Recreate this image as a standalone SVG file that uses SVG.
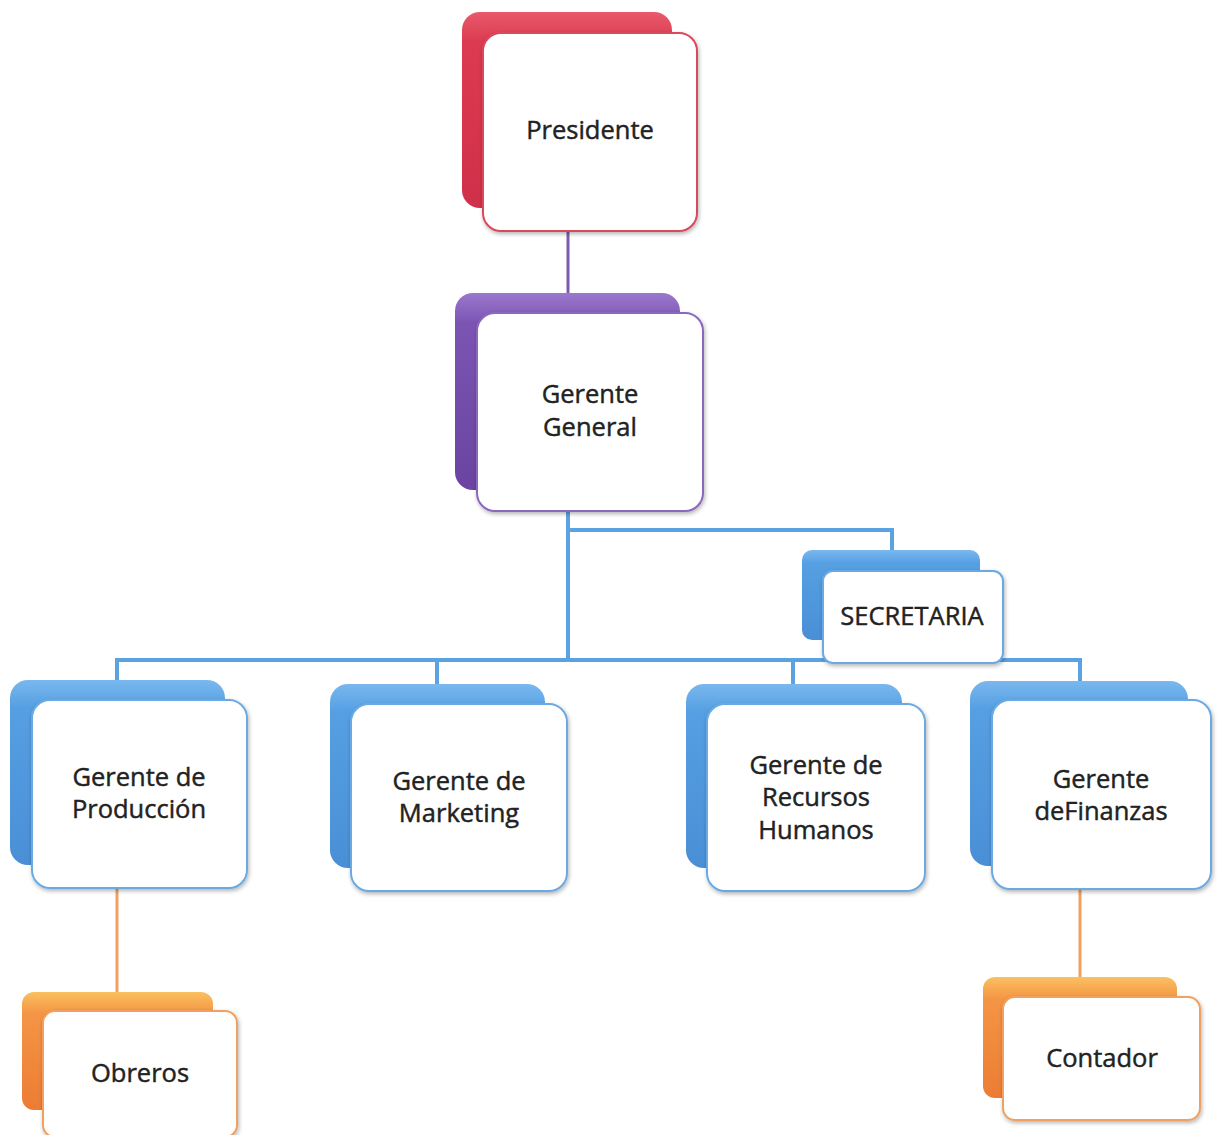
<svg xmlns="http://www.w3.org/2000/svg" width="1220" height="1135" viewBox="0 0 1220 1135">
  <defs>
    <linearGradient id="gRed" x1="0" y1="0" x2="0" y2="1">
      <stop offset="0" stop-color="#e85a6c"/>
      <stop offset="0.15" stop-color="#dc3a50"/>
      <stop offset="1" stop-color="#d0304a"/>
    </linearGradient>
    <linearGradient id="gPurple" x1="0" y1="0" x2="0" y2="1">
      <stop offset="0" stop-color="#9a78cc"/>
      <stop offset="0.15" stop-color="#7c55b4"/>
      <stop offset="1" stop-color="#6a44a0"/>
    </linearGradient>
    <linearGradient id="gBlue" x1="0" y1="0" x2="0" y2="1">
      <stop offset="0" stop-color="#7ab8ee"/>
      <stop offset="0.15" stop-color="#559fe2"/>
      <stop offset="1" stop-color="#4a8fd6"/>
    </linearGradient>
    <linearGradient id="gOrange" x1="0" y1="0" x2="0" y2="1">
      <stop offset="0" stop-color="#fbc060"/>
      <stop offset="0.18" stop-color="#f49545"/>
      <stop offset="1" stop-color="#ec7c34"/>
    </linearGradient>
    <filter id="shadow" x="-10%" y="-10%" width="125%" height="125%">
      <feGaussianBlur in="SourceAlpha" stdDeviation="2"/>
      <feOffset dx="1" dy="2" result="b"/>
      <feComponentTransfer><feFuncA type="linear" slope="0.3"/></feComponentTransfer>
      <feMerge><feMergeNode/><feMergeNode in="SourceGraphic"/></feMerge>
    </filter>
  </defs>
  <style>
    .card { fill: #ffffff; stroke-width: 2; }
    .red { stroke: #d94a5c; }
    .purple { stroke: #8a68bc; }
    .blue { stroke: #6aaae4; }
    .orange { stroke: #f0a060; }
    .lbl { font-family: "Open Sans", Lato, "Liberation Sans", sans-serif; font-size: 25.5px; font-weight: 500; fill: #222222; stroke: #222222; stroke-width: 0.45; text-anchor: middle; }
    .conn line, .conn polyline { fill: none; stroke-linecap: square; }
  </style>

  <rect width="1220" height="1135" fill="#ffffff"/>

  <!-- connectors -->
  <g class="conn" id="connectors">
    <line x1="568" y1="231" x2="568" y2="293" stroke="#7a5cae" stroke-width="3"/>
    <line x1="568" y1="511" x2="568" y2="660" stroke="#5aa2e2" stroke-width="4"/>
    <polyline points="568,530 892,530 892,550" stroke="#5aa2e2" stroke-width="4"/>
    <line x1="117" y1="660" x2="1080" y2="660" stroke="#5aa2e2" stroke-width="4"/>
    <line x1="117" y1="660" x2="117" y2="680" stroke="#5aa2e2" stroke-width="4"/>
    <line x1="437" y1="660" x2="437" y2="684" stroke="#5aa2e2" stroke-width="4"/>
    <line x1="793" y1="660" x2="793" y2="684" stroke="#5aa2e2" stroke-width="4"/>
    <line x1="1080" y1="660" x2="1080" y2="681" stroke="#5aa2e2" stroke-width="4"/>
    <line x1="117" y1="888" x2="117" y2="992" stroke="#f0a060" stroke-width="3"/>
    <line x1="1080" y1="889" x2="1080" y2="977" stroke="#f0a060" stroke-width="3"/>
  </g>

  <!-- Presidente -->
  <g id="presidente">
    <rect x="462" y="12" width="210" height="196" rx="18" fill="url(#gRed)"/>
    <rect class="card red" x="483" y="33" width="214" height="198" rx="18" filter="url(#shadow)"/>
    <text class="lbl" x="590" y="139">Presidente</text>
  </g>

  <!-- Gerente General -->
  <g id="gerente-general">
    <rect x="455" y="293" width="225" height="197" rx="18" fill="url(#gPurple)"/>
    <rect class="card purple" x="477" y="313" width="226" height="198" rx="18" filter="url(#shadow)"/>
    <text class="lbl" x="590" y="403">Gerente</text>
    <text class="lbl" x="590" y="436">General</text>
  </g>

  <!-- Secretaria -->
  <g id="secretaria">
    <rect x="802" y="550" width="178" height="90" rx="10" fill="url(#gBlue)"/>
    <rect class="card blue" x="823" y="571" width="180" height="92" rx="10" filter="url(#shadow)"/>
    <text class="lbl" x="912" y="625">SECRETARIA</text>
  </g>

  <!-- Gerente de Producción -->
  <g id="gerente-produccion">
    <rect x="10" y="680" width="215" height="185" rx="18" fill="url(#gBlue)"/>
    <rect class="card blue" x="32" y="700" width="215" height="188" rx="18" filter="url(#shadow)"/>
    <text class="lbl" x="139" y="786">Gerente de</text>
    <text class="lbl" x="139" y="818">Producción</text>
  </g>

  <!-- Gerente de Marketing -->
  <g id="gerente-marketing">
    <rect x="330" y="684" width="215" height="184" rx="18" fill="url(#gBlue)"/>
    <rect class="card blue" x="351" y="704" width="216" height="187" rx="18" filter="url(#shadow)"/>
    <text class="lbl" x="459" y="790">Gerente de</text>
    <text class="lbl" x="459" y="822">Marketing</text>
  </g>

  <!-- Gerente de Recursos Humanos -->
  <g id="gerente-rrhh">
    <rect x="686" y="684" width="216" height="184" rx="18" fill="url(#gBlue)"/>
    <rect class="card blue" x="707" y="704" width="218" height="187" rx="18" filter="url(#shadow)"/>
    <text class="lbl" x="816" y="774">Gerente de</text>
    <text class="lbl" x="816" y="806">Recursos</text>
    <text class="lbl" x="816" y="839">Humanos</text>
  </g>

  <!-- Gerente de Finanzas -->
  <g id="gerente-finanzas">
    <rect x="970" y="681" width="218" height="185" rx="18" fill="url(#gBlue)"/>
    <rect class="card blue" x="992" y="700" width="219" height="189" rx="18" filter="url(#shadow)"/>
    <text class="lbl" x="1101" y="788">Gerente</text>
    <text class="lbl" x="1101" y="820">deFinanzas</text>
  </g>

  <!-- Obreros -->
  <g id="obreros">
    <rect x="22" y="992" width="191" height="118" rx="12" fill="url(#gOrange)"/>
    <rect class="card orange" x="43" y="1011" width="194" height="126" rx="12" filter="url(#shadow)"/>
    <text class="lbl" x="140" y="1082">Obreros</text>
  </g>

  <!-- Contador -->
  <g id="contador">
    <rect x="983" y="977" width="194" height="121" rx="12" fill="url(#gOrange)"/>
    <rect class="card orange" x="1003" y="997" width="197" height="123" rx="12" filter="url(#shadow)"/>
    <text class="lbl" x="1102" y="1067">Contador</text>
  </g>
</svg>
